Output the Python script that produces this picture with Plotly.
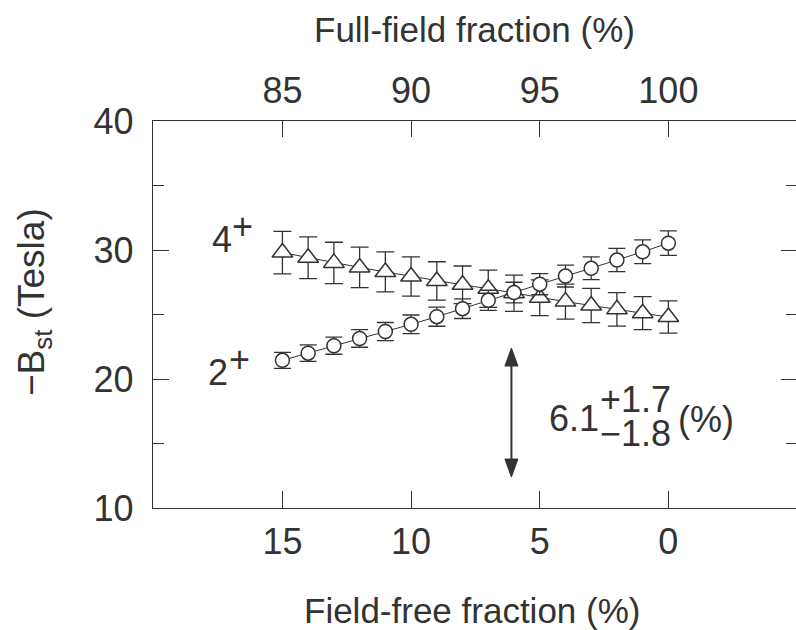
import plotly.graph_objects as go

# Field-free fraction (%) for each calculation point
free_frac = [15, 14, 13, 12, 11, 10, 9, 8, 7, 6, 5, 4, 3, 2, 1, 0]

# -B_st (Tesla) for the 4+ state and its uncertainty
b_4plus = [29.8, 29.4, 29.0, 28.65, 28.3, 27.95, 27.6, 27.3, 27.0, 26.65,
           26.3, 26.0, 25.7, 25.4, 25.1, 24.8]
b_4plus_err = [1.65, 1.62, 1.60, 1.57, 1.55, 1.52, 1.49, 1.46, 1.44, 1.41,
               1.38, 1.36, 1.33, 1.30, 1.28, 1.25]

# -B_st (Tesla) for the 2+ state and its uncertainty
b_2plus = [21.45, 22.0, 22.58, 23.14, 23.68, 24.24, 24.83, 25.45, 26.1, 26.7,
           27.35, 27.98, 28.58, 29.22, 29.86, 30.53]
b_2plus_err = [0.62, 0.64, 0.66, 0.68, 0.70, 0.72, 0.74, 0.76, 0.78, 0.80,
               0.82, 0.85, 0.88, 0.90, 0.92, 0.95]

# Crossing estimate shown by the double arrow
cross_val = 6.1
cross_plus = 1.7
cross_minus = 1.8
arrow_span = [12.4, 22.4]

bottom_ticks = [15, 10, 5, 0]
top_ticks = [85, 90, 95, 100]
y_major = [10, 20, 30, 40]

INK = "#333333"
FONT = "Liberation Sans, Arial, Helvetica, sans-serif"
FS = 36

W, H = 796, 630
L, R, T, B = 153, 0, 121, 122
PW, PH = W - L - R, H - T - B
x_lo, x_hi = 20.03, -4.96


def px_x(p):
    return (p - L) / PW


def px_y(p):
    return (H - B - p) / PH


fig = go.Figure()

fig.add_trace(go.Scatter(
    x=free_frac, y=b_4plus, mode="lines+markers",
    line=dict(color=INK, width=1),
    marker=dict(symbol="triangle-up", size=18, color="white",
                line=dict(color=INK, width=1.5)),
    error_y=dict(type="data", array=b_4plus_err, color=INK,
                 thickness=1.3, width=9),
    showlegend=False, hoverinfo="skip",
))

fig.add_trace(go.Scatter(
    x=free_frac, y=b_2plus, mode="lines+markers",
    line=dict(color=INK, width=1),
    marker=dict(symbol="circle", size=14, color="white",
                line=dict(color=INK, width=1.5)),
    error_y=dict(type="data", array=b_2plus_err, color=INK,
                 thickness=1.3, width=8.5),
    showlegend=False, hoverinfo="skip",
))

# empty traces so the top and right axes get drawn
fig.add_trace(go.Scatter(x=[100 - f for f in bottom_ticks],
                         y=[None] * len(bottom_ticks), xaxis="x2",
                         showlegend=False, hoverinfo="skip"))
fig.add_trace(go.Scatter(x=bottom_ticks, y=[None] * len(bottom_ticks),
                         yaxis="y2", showlegend=False, hoverinfo="skip"))

# double-headed arrow at the crossing point
ax_w = 6.5 / (PW / abs(x_lo - x_hi))   # half width of heads in data units
ah_h = 18 / (PH / 30.0)                # head length in data units
y0, y1 = arrow_span
fig.add_shape(type="line", x0=cross_val, x1=cross_val, y0=y0 + ah_h * 0.5,
              y1=y1 - ah_h * 0.5, line=dict(color=INK, width=2))
fig.add_shape(type="path",
              path=f"M {cross_val} {y1} L {cross_val - ax_w} {y1 - ah_h} "
                   f"L {cross_val + ax_w} {y1 - ah_h} Z",
              fillcolor=INK, line=dict(color=INK, width=1))
fig.add_shape(type="path",
              path=f"M {cross_val} {y0} L {cross_val - ax_w} {y0 + ah_h} "
                   f"L {cross_val + ax_w} {y0 + ah_h} Z",
              fillcolor=INK, line=dict(color=INK, width=1))

tfont = dict(family=FONT, size=FS, color=INK)


def label(text, xp, yp, xa="center", ya="middle", angle=0, size=FS):
    fig.add_annotation(text=text, x=px_x(xp), y=px_y(yp), xref="paper",
                       yref="paper", showarrow=False, xanchor=xa,
                       yanchor=ya, font=dict(tfont, size=size),
                       textangle=angle, borderpad=0)


# state labels
label("4", 222, 239)
label("+", 242, 226)
label("2", 218, 372)
label("+", 239, 359)

# crossing value with stacked limits
label(f"{cross_val}", 574, 418)
label(f"+{cross_plus}", 635, 399)
label(f"\u2212{cross_minus}", 635, 433)
label("(%)", 706, 419)

# axis titles
label("Full-field fraction (%)", 474.5, 30, size=35)
label("Field-free fraction (%)", 472, 610, size=35)
label("\u2212B<sub>st</sub> (Tesla)", 34, 302, angle=-90, size=37)

axis_common = dict(ticks="inside", tickcolor=INK, tickwidth=1.3,
                   linecolor=INK, linewidth=1.3, showgrid=False,
                   zeroline=False, tickfont=tfont)

fig.update_layout(
    width=W, height=H, margin=dict(l=L, r=R, t=T, b=B),
    paper_bgcolor="white", plot_bgcolor="white",
    xaxis=dict(range=[x_lo, x_hi], tickvals=bottom_ticks, ticklen=17,
               showline=True, ticklabelstandoff=2, **axis_common),
    xaxis2=dict(range=[100 - x_lo, 100 - x_hi], tickvals=top_ticks,
                overlaying="x", side="top", ticklen=16, showline=True,
                ticklabelstandoff=2, **axis_common),
    yaxis=dict(range=[10, 40], tickvals=y_major, ticklen=16, showline=True,
               ticklabelstandoff=11,
               minor=dict(ticks="inside", ticklen=11, dtick=5,
                          tickcolor=INK, tickwidth=1.3),
               **axis_common),
    yaxis2=dict(range=[10, 40], tickvals=y_major, ticklen=15,
                overlaying="y", side="right", showline=False,
                showticklabels=False,
                minor=dict(ticks="inside", ticklen=10, dtick=5,
                           tickcolor=INK, tickwidth=1.3),
                **{k: v for k, v in axis_common.items() if k != "tickfont"}),
)

fig.write_html("out.html")
